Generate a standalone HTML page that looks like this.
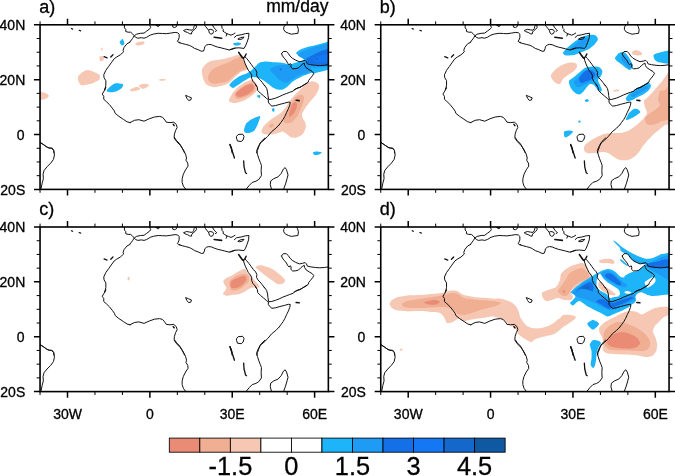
<!DOCTYPE html>
<html><head><meta charset="utf-8"><title>Precipitation anomaly maps</title>
<style>
html,body{margin:0;padding:0;background:#fff;}
body{width:675px;height:476px;overflow:hidden;font-family:"Liberation Sans",sans-serif;}
svg{display:block}
text{font-family:"Liberation Sans",sans-serif;fill:#000;stroke:#000;stroke-width:0.3px}
.c{fill:none;stroke:#111;stroke-linejoin:round;stroke-linecap:round}
.fr{fill:none;stroke:#000;stroke-width:1.6}
.tk{stroke:#000;stroke-width:1.5;fill:none}.tm{stroke:#000;stroke-width:1;fill:none}
.ax{font-size:14px}
.pl{font-size:18px}.un{font-size:17.5px}
.cb{font-size:25.4px}
</style></head><body>
<svg width="675" height="476" viewBox="0 0 675 476">
<rect width="675" height="476" fill="#fff"/>
<defs>
<clipPath id="cp"><rect x="0" y="0" width="288.3" height="164.6"/></clipPath>
<g id="coast">
<path class="c" d="M31.4,3.7 L32.6,4.3" stroke-width="1.2"/>
<path class="c" d="M39.1,5.5 L40.6,6.1" stroke-width="1.2"/>
<path class="c" d="M64.0,31.9 L67.0,33.1" stroke-width="1.3"/>
<path class="c" d="M70.7,32.2 L72.9,30.0" stroke-width="1.3"/>
<path class="c" d="M84.4,0.3 L84.4,3.1 L85.7,4.5 L85.7,6.7 L88.0,7.4 L90.6,7.4 L92.4,8.9 L94.2,11.0 L96.4,9.4 L100.4,8.5 L104.0,8.3 L106.6,6.3 L109.7,4.0 L110.6,2.7 L109.7,0.3"/>
<path class="c" d="M90.0,17.4 L87.0,18.9 L84.0,22.6 L83.0,25.5 L83.6,27.0 L80.3,30.0 L76.6,32.2 L74.1,34.0 L71.1,38.1 L68.5,41.8 L65.8,45.5 L63.7,50.0 L64.0,52.9 L65.8,55.9 L65.8,60.3 L64.8,65.1"/>
<path class="c" d="M89.9,17.0 L92.4,13.8 L94.2,11.0 L95.5,12.5 L97.7,13.4 L101.3,12.9 L104.0,13.4 L106.6,12.5 L110.2,10.3 L113.7,9.2 L118.2,8.5 L122.6,8.7 L126.2,8.9 L130.6,8.3 L135.1,7.6 L137.7,8.0 L139.1,9.4 L139.1,12.9 L138.2,15.2 L137.3,16.5 L138.6,17.4 L139.9,17.6"/>
<path class="c" d="M116.0,0.5 L118.2,1.8 L119.5,0.7 Z"/>
<path class="c" d="M132.4,0.3 L132.8,2.3 L134.6,2.7 L136.4,1.8 L136.8,0.3"/>
<path class="c" d="M138.9,17.8 L142.1,18.7 L145.6,19.6 L149.2,20.5 L151.8,21.8 L154.5,23.6 L158.1,24.9 L161.2,26.4 L163.4,26.3 L164.3,24.0 L164.7,21.8 L166.5,20.2 L168.7,19.6 L171.4,19.9 L174.1,21.1 L177.6,22.3 L181.2,23.1 L184.7,24.0 L189.2,25.2 L191.8,24.5 L194.9,23.4"/>
<path class="c" d="M143.8,5.6 L146.5,4.5 L149.6,5.1 L152.3,5.4 L153.6,3.6 L154.1,1.4 L154.9,0.3 L156.3,0.5 L156.3,2.7 L154.9,4.5 L153.2,5.8 L151.8,7.2 L151.4,9.2 L149.6,8.9 L147.4,7.6 L145.2,6.9 Z"/>
<path class="c" d="M164.3,0.0 L165.6,1.8 L167.4,4.0 L168.7,5.8 L169.4,8.3 L170.9,9.4 L172.7,8.7 L173.6,6.7 L172.7,5.1 L170.1,4.5 L168.7,5.1"/>
<path class="c" d="M172.3,0.3 L174.1,3.1 L175.8,4.9 L176.7,5.8 L175.4,6.5"/>
<path class="c" d="M174.1,12.5 L181.6,13.4" stroke-width="1.6"/>
<path class="c" d="M181.6,0.3 L182.1,3.6 L183.4,4.9 L182.9,6.3 L184.7,7.6 L186.9,8.9 L186.1,11.2"/>
<path class="c" d="M186.9,8.9 L188.3,9.4 L190.9,10.4 L193.2,9.4 L194.9,8.3"/>
<path class="c" d="M194.4,12.6 L196.6,10.7 L201.1,10.0 L205.5,8.8 L208.9,8.5 L208.5,12.9 L207.0,17.4 L205.5,21.1 L204.0,23.6 L198.8,23.0 L194.4,23.3 L189.9,24.8"/>
<path class="c" d="M198.1,14.1 L200.3,12.9 L204.0,12.2 L202.5,14.1 L199.6,14.7 Z"/>
<path class="c" d="M198.7,27.6 L200.5,30.3 L202.3,32.8 L203.4,33.4" stroke-width="1.7"/>
<path class="c" d="M206.1,29.2 L204.9,31.6 L203.6,33.1" stroke-width="1.4"/>
<path class="c" d="M203.4,33.4 L204.1,36.0 L205.2,39.1 L206.7,42.3 L208.2,45.4 L210.3,48.0 L211.6,50.3 L211.6,53.4 L212.9,56.5 L215.2,59.1 L216.5,61.4"/>
<path class="c" d="M204.9,32.0 L206.7,33.8 L208.9,36.5 L211.2,39.6 L213.4,42.7 L215.6,44.9 L216.8,47.6 L216.5,50.3 L217.8,52.9 L220.1,55.1 L222.3,57.8 L224.5,60.9"/>
<path class="c" d="M215.5,59.9 L217.3,62.6 L217.7,65.7 L220.4,68.4 L223.5,71.0 L226.6,73.7 L228.4,75.0 L228.2,77.3 L229.7,79.5 L231.9,81.3 L235.5,80.8 L239.9,79.5 L244.4,78.4 L248.4,77.3 L250.2,77.5 L249.7,80.4 L248.4,83.9 L246.6,87.5 L244.8,91.5 L243.1,94.6 L240.8,97.7 L239.1,100.1"/>
<path class="c" d="M224.4,60.4 L226.6,63.5 L227.5,67.0 L227.9,70.6 L228.6,74.6 L231.1,74.6 L235.5,73.3 L239.1,71.9 L242.6,70.2 L246.2,68.8 L249.7,67.5 L253.3,66.2 L255.1,64.4 L257.7,63.0 L259.9,62.6"/>
<path class="c" d="M256.1,75.5 L259.1,75.8" stroke-width="1.6"/>
<path class="c" d="M245.1,0.3 L243.7,2.3 L243.7,4.9 L245.5,7.2 L248.6,8.5 L251.3,9.4 L254.8,8.9 L257.9,8.5 L258.4,4.9 L257.5,1.8 L256.6,0.3"/>
<path class="c" d="M241.5,28.9 L243.3,26.7 L246.4,26.7 L248.2,28.5 L249.9,31.1 L252.2,33.4 L255.7,35.4 L259.3,36.9 L262.4,36.3 L265.1,35.6 L266.4,36.9 L267.3,39.1 L270.8,39.9 L275.3,40.5 L279.7,40.8 L284.2,40.5 L287.7,40.0"/>
<path class="c" d="M241.5,28.9 L242.4,31.1 L244.2,33.4 L246.4,36.0 L247.7,38.7 L249.1,40.0 L250.2,38.7 L251.1,40.0 L250.8,42.3 L252.6,44.0 L255.7,43.8 L258.4,43.1 L260.6,40.9 L262.8,39.1 L264.2,38.3 L264.6,40.5 L265.9,42.7 L269.1,44.9 L272.2,46.7 L273.7,48.5 L272.6,50.7 L270.4,53.4 L268.6,55.6 L268.2,57.4 L265.9,59.1 L262.8,60.9 L259.3,62.7 L255.7,64.2 L253.9,65.1"/>
<path class="c" d="M64.8,64.4 L65.8,62.6 L64.0,66.3 L62.2,69.3 L63.7,71.5 L63.7,74.5 L66.2,76.7 L69.2,79.6 L72.2,83.3 L74.4,86.3 L75.1,88.5 L78.8,91.5 L83.3,94.5 L87.0,97.0 L90.0,97.8"/>
<path class="c" d="M0.3,117.7 L3.3,119.6 L6.2,121.8 L9.2,123.3 L12.2,123.3 L13.7,125.6 L13.9,128.1"/>
<path class="c" d="M90.0,97.8 L94.4,95.5 L98.8,94.9 L104.0,96.4 L109.2,94.0 L114.4,92.2 L119.6,91.6 L122.5,92.5 L124.8,95.2 L126.2,97.4 L129.9,97.8 L133.7,97.4 L136.2,99.6 L137.1,102.6 L135.6,105.6 L134.4,109.3 L134.1,112.2 L136.6,115.9 L139.6,118.9 L141.8,122.6 L143.6,126.3 L144.5,128.1"/>
<path class="c" d="M145.9,70.7 L148.5,71.8 L151.4,73.0 L150.7,75.2 L148.5,75.6 L147.0,73.7 Z"/>
<path class="c" d="M133.2,99.6 L134.1,100.8" stroke-width="1.5"/>
<path class="c" d="M239.0,100.1 L235.9,103.3 L231.4,107.0 L227.7,111.5 L224.0,115.2 L220.3,118.2 L218.8,121.8 L217.4,125.6 L216.6,128.1"/>
<path class="c" d="M259.9,62.6 L261.1,61.9 L264.0,59.9 L267.0,58.1"/>
<path class="c" d="M196.6,111.5 L198.1,109.7 L202.5,109.3 L204.0,111.5 L203.0,115.2 L201.1,116.7 L197.4,116.2 L196.6,113.7 Z"/>
<path class="c" d="M189.9,119.6 L191.4,123.3 L192.2,127.8" stroke-width="1.35"/>
<path class="c" d="M0.3,117.9 L4.0,120.3 L7.7,122.8 L11.4,123.5 L13.7,125.7 L14.4,130.2 L13.4,134.6 L10.7,138.3 L7.0,142.0 L4.0,145.7 L3.0,149.4 L3.3,153.9 L2.1,158.3 L1.1,163.5"/>
<path class="c" d="M134.1,113.2 L136.6,116.8 L140.3,120.6 L143.3,125.0 L145.5,129.4 L146.5,133.2 L145.9,135.4 L147.7,138.3 L148.0,141.3 L145.5,145.0 L143.3,149.4 L142.1,153.9 L142.1,157.6 L143.3,161.3 L145.5,164.3"/>
<path class="c" d="M224.8,113.2 L221.1,116.8 L218.8,120.6 L216.6,125.7 L217.4,129.4 L218.8,133.9 L220.3,137.6 L221.4,140.6 L221.1,145.7 L221.4,150.9 L218.8,154.6 L215.9,156.4 L212.2,157.6 L209.2,160.6 L206.2,164.3"/>
<path class="c" d="M231.4,164.3 L230.2,159.8 L230.7,156.1 L233.7,153.9 L238.1,152.0 L241.1,148.7 L243.3,144.3 L245.1,142.8 L246.5,145.0 L248.0,150.2 L247.0,153.9 L245.5,159.1 L243.6,164.3"/>
<path class="c" d="M189.9,119.8 L192.2,126.5 L194.4,133.2" stroke-width="1.35"/>
<path class="c" d="M203.6,136.1 L204.0,142.0 L205.5,148.0 L206.5,148.7" stroke-width="1.3"/>
</g></defs>
<g transform="translate(40.05,24.8)">
<g clip-path="url(#cp)">
<path d="M37.9,51.9 C38.3,50.9 40.2,48.9 41.3,48.1 C42.4,47.3 45.6,45.5 47.0,45.3 C48.4,45.1 51.2,46.1 52.7,46.6 C54.1,47.2 58.5,49.0 59.3,50.0 C60.1,51.0 59.8,53.8 59.3,54.8 C58.7,55.7 55.8,57.0 54.5,57.6 C53.3,58.1 50.5,59.1 48.9,59.5 C47.3,59.8 42.6,60.8 41.3,60.4 C40.1,60.1 38.9,57.7 38.5,56.6 C38.1,55.6 37.6,52.9 37.9,51.9 Z" fill="#F6C7B3"/>
<path d="M59.3,32.1 C59.5,31.4 61.5,31.0 62.1,31.1 C62.7,31.2 63.9,32.4 64.0,33.0 C64.1,33.6 63.5,35.4 63.1,35.8 C62.6,36.2 60.7,36.9 60.2,36.4 C59.8,36.0 59.1,32.7 59.3,32.1 Z" fill="#F6C7B3"/>
<path d="M61.2,23.2 C61.3,22.9 62.3,22.9 62.5,23.2 C62.6,23.5 62.6,25.2 62.5,25.4 C62.3,25.7 61.3,25.7 61.2,25.4 C61.0,25.2 61.0,23.5 61.2,23.2 Z" fill="#F6C7B3"/>
<path d="M-4.0,66.7 C-3.0,65.8 2.9,67.5 4.5,68.0 C6.0,68.5 8.6,70.1 8.8,70.8 C9.0,71.5 7.2,73.2 6.4,73.7 C5.5,74.1 2.9,74.8 1.6,75.0 C0.4,75.2 -3.4,76.3 -4.0,75.4 C-4.7,74.4 -5.1,67.5 -4.0,66.7 Z" fill="#F6C7B3"/>
<path d="M79.5,17.5 C79.6,16.7 81.9,13.9 82.5,14.1 C83.1,14.3 84.5,18.0 84.4,18.8 C84.4,19.6 82.6,20.9 82.0,20.7 C81.4,20.6 79.4,18.3 79.5,17.5 Z" fill="#1EB4FA"/>
<path d="M66.8,65.1 C67.2,64.5 69.6,62.2 70.6,61.4 C71.6,60.6 73.9,58.8 75.4,58.5 C76.8,58.3 82.1,58.9 82.9,59.5 C83.7,60.0 82.6,62.1 82.0,62.9 C81.3,63.7 78.5,65.5 77.2,66.1 C76.0,66.6 72.7,67.3 71.6,67.4 C70.4,67.5 68.0,67.3 67.4,67.0 C66.8,66.8 66.5,65.8 66.8,65.1 Z" fill="#1EB4FA"/>
<path d="M90.0,64.8 C90.2,64.4 92.8,63.4 93.6,63.0 C94.5,62.7 96.6,62.0 97.4,62.2 C98.2,62.3 100.5,63.6 100.3,64.1 C100.1,64.6 96.9,65.7 95.9,66.0 C94.8,66.3 92.1,66.8 91.4,66.6 C90.7,66.5 89.7,65.3 90.0,64.8 Z" fill="#F6C7B3"/>
<path d="M98.8,60.7 C99.3,60.3 102.0,59.0 103.3,58.9 C104.5,58.8 108.9,59.6 109.2,60.1 C109.6,60.5 107.1,62.1 106.3,62.6 C105.4,63.1 103.3,64.2 102.5,64.1 C101.7,64.0 100.0,62.3 99.6,61.9 C99.1,61.5 98.4,61.0 98.8,60.7 Z" fill="#F6C7B3"/>
<path d="M118.8,54.8 C119.2,54.6 121.7,54.1 122.5,54.2 C123.4,54.2 126.2,54.7 126.3,54.9 C126.3,55.1 124.1,55.9 123.3,55.9 C122.5,56.0 120.1,55.8 119.6,55.6 C119.0,55.5 118.5,54.9 118.8,54.8 Z" fill="#F6C7B3"/>
<path d="M95.2,18.7 C95.4,18.3 97.5,17.5 98.5,17.2 C99.5,17.0 102.9,16.6 103.6,16.8 C104.4,17.0 104.7,18.3 104.4,18.7 C104.1,19.1 102.3,20.0 101.4,20.2 C100.5,20.4 97.7,20.8 97.0,20.6 C96.2,20.5 95.0,19.1 95.2,18.7 Z" fill="#F6C7B3"/>
<path d="M161.9,45.2 C162.2,43.6 163.9,41.3 164.9,40.2 C166.0,39.1 169.0,36.8 170.9,36.2 C172.9,35.6 178.5,35.3 180.9,34.8 C183.3,34.3 188.9,32.8 190.9,32.2 C193.0,31.6 196.6,30.2 197.9,30.2 C199.3,30.2 201.1,31.2 201.9,32.2 C202.8,33.2 204.3,36.8 204.9,38.2 C205.6,39.6 207.8,43.1 207.4,44.2 C206.9,45.3 202.4,46.2 200.9,47.2 C199.5,48.2 196.4,50.9 194.9,52.2 C193.5,53.5 190.6,57.1 188.9,58.2 C187.3,59.3 182.9,60.7 180.9,61.2 C179.0,61.7 174.8,62.4 172.9,62.2 C171.1,62.0 167.1,60.3 165.9,59.2 C164.8,58.1 163.4,54.9 162.9,53.2 C162.5,51.5 161.7,46.8 161.9,45.2 Z" fill="#F6C7B3"/>
<path d="M167.9,52.2 C168.3,50.9 170.6,46.5 171.9,45.2 C173.3,43.9 177.1,42.0 178.9,41.2 C180.8,40.4 185.0,39.0 186.9,38.2 C188.9,37.4 193.3,34.9 194.9,34.2 C196.6,33.5 199.5,31.8 200.6,32.2 C201.6,32.6 203.2,35.8 203.9,37.2 C204.7,38.6 207.0,42.5 206.6,43.6 C206.1,44.7 201.5,45.3 199.9,46.2 C198.4,47.1 195.4,49.6 193.9,50.8 C192.5,52.0 189.6,55.3 187.9,56.2 C186.3,57.1 181.8,57.9 179.9,58.2 C178.1,58.5 174.3,59.0 172.9,58.8 C171.6,58.6 169.5,57.0 168.9,56.2 C168.3,55.4 167.6,53.5 167.9,52.2 Z" fill="#F0AE93"/>
<path d="M188.9,75.2 C189.2,74.2 191.0,70.6 191.9,69.2 C192.9,67.8 195.5,64.5 196.9,63.2 C198.4,61.9 202.1,59.2 203.9,58.2 C205.8,57.2 210.5,55.2 211.9,55.2 C213.4,55.2 215.2,57.2 215.9,58.2 C216.7,59.2 218.1,62.0 217.9,63.2 C217.8,64.4 215.9,67.1 214.9,68.2 C214.0,69.3 211.4,71.2 209.9,72.2 C208.5,73.2 204.8,75.5 202.9,76.2 C201.1,76.9 196.5,78.1 194.9,78.2 C193.4,78.3 190.7,77.6 189.9,77.2 C189.2,76.8 188.7,76.2 188.9,75.2 Z" fill="#F6C7B3"/>
<path d="M194.9,69.2 C195.5,68.2 198.6,65.3 199.9,64.2 C201.3,63.1 204.5,61.0 205.9,60.2 C207.4,59.4 210.9,57.5 211.9,57.6 C213.0,57.7 214.6,60.3 214.9,61.2 C215.3,62.1 215.4,64.2 214.9,65.2 C214.5,66.2 212.1,68.4 210.9,69.2 C209.8,70.0 206.5,71.6 204.9,72.2 C203.4,72.8 199.1,74.2 197.9,74.2 C196.8,74.2 195.3,72.8 194.9,72.2 C194.6,71.6 194.3,70.2 194.9,69.2 Z" fill="#F0AE93"/>
<path d="M195.9,68.2 C196.5,67.4 199.6,64.6 200.9,63.6 C202.3,62.6 205.6,60.7 206.9,60.2 C208.3,59.7 211.1,58.8 211.9,59.2 C212.8,59.6 214.1,62.2 213.9,63.2 C213.8,64.2 212.0,66.3 210.9,67.2 C209.9,68.1 206.4,70.2 204.9,70.8 C203.5,71.4 200.0,72.3 198.9,72.2 C197.9,72.1 196.3,70.7 195.9,70.2 C195.6,69.7 195.3,69.0 195.9,68.2 Z" fill="#E98B75"/>
<path d="M221.5,106.6 C221.6,105.9 222.4,103.0 223.1,102.0 C223.7,101.0 225.9,99.0 226.9,98.1 C228.0,97.2 230.3,95.1 231.6,94.2 C232.9,93.3 236.5,91.2 237.8,90.3 C239.1,89.4 241.5,87.4 242.5,86.4 C243.5,85.4 245.5,83.0 246.4,81.8 C247.2,80.5 248.7,77.5 249.5,76.3 C250.3,75.1 252.4,72.8 253.4,71.6 C254.4,70.5 256.9,68.1 258.1,67.0 C259.2,65.9 261.6,63.3 262.7,62.3 C263.8,61.3 266.3,59.1 267.4,58.4 C268.5,57.7 270.9,56.5 272.1,56.4 C273.2,56.3 275.9,57.1 276.7,57.6 C277.6,58.2 278.9,59.8 279.1,60.8 C279.2,61.7 278.7,64.2 278.3,65.4 C277.8,66.6 276.0,69.7 275.2,70.9 C274.3,72.1 272.2,74.4 271.3,75.5 C270.3,76.6 268.2,79.1 267.4,80.2 C266.6,81.3 264.9,83.8 264.3,84.9 C263.6,86.0 262.1,88.5 261.9,89.5 C261.8,90.6 262.4,92.5 262.7,93.4 C263.1,94.4 264.7,96.3 265.1,97.3 C265.4,98.3 265.9,100.9 265.8,102.0 C265.7,103.1 264.8,105.6 264.3,106.6 C263.7,107.7 262.2,109.8 261.2,110.5 C260.1,111.3 257.0,112.7 255.7,112.9 C254.4,113.1 251.4,112.6 250.3,112.1 C249.2,111.6 247.3,109.6 246.4,109.0 C245.5,108.3 243.5,106.7 242.5,106.6 C241.5,106.5 239.1,107.8 237.8,108.2 C236.5,108.6 233.1,109.6 231.6,109.8 C230.1,109.9 226.5,109.9 225.4,109.8 C224.3,109.6 222.7,108.6 222.3,108.2 C221.8,107.8 221.4,107.4 221.5,106.6 Z" fill="#F6C7B3"/>
<path d="M243.6,95.7 C243.9,94.7 245.7,91.0 246.3,89.5 C246.9,88.0 248.3,84.7 249.0,83.3 C249.6,81.9 251.0,79.1 251.6,78.0 C252.3,76.8 253.6,74.4 254.3,73.5 C255.1,72.7 256.9,71.3 257.9,70.8 C258.8,70.4 261.6,69.7 262.3,70.0 C263.1,70.2 264.0,71.8 264.1,72.6 C264.2,73.5 263.5,75.9 263.2,77.1 C262.9,78.2 261.8,81.2 261.4,82.4 C261.0,83.6 260.1,85.9 259.6,86.8 C259.2,87.8 258.4,89.5 257.9,90.4 C257.3,91.3 255.9,93.1 255.2,94.0 C254.4,94.8 252.6,97.0 251.6,97.5 C250.7,98.1 248.2,98.4 247.3,98.5 C246.4,98.5 244.6,98.2 244.2,97.9 C243.7,97.5 243.4,96.7 243.6,95.7 Z" fill="#F0AE93"/>
<path d="M229.1,100.5 C229.3,100.1 230.7,99.1 231.3,99.0 C231.8,98.9 233.5,99.3 233.8,99.6 C234.0,100.0 233.6,101.5 233.2,101.9 C232.9,102.3 231.3,102.9 230.8,102.9 C230.4,103.0 229.5,102.6 229.2,102.3 C229.0,102.0 228.8,100.9 229.1,100.5 Z" fill="#F0AE93"/>
<path d="M249.0,89.5 C249.0,88.7 250.0,86.1 250.3,85.1 C250.6,84.0 251.3,81.5 251.6,80.6 C252.0,79.8 252.9,78.3 253.4,78.0 C253.9,77.6 255.2,77.3 255.6,77.5 C256.1,77.7 256.9,78.9 257.0,79.7 C257.0,80.5 256.4,83.2 256.1,84.2 C255.8,85.1 254.8,86.9 254.3,87.7 C253.8,88.5 252.2,90.3 251.6,90.8 C251.1,91.4 250.2,92.3 249.9,92.2 C249.5,92.0 248.9,90.4 249.0,89.5 Z" fill="#E98B75"/>
<path d="M189.4,60.2 C189.5,59.2 192.7,56.3 193.9,55.2 C195.2,54.1 198.3,52.0 199.9,51.2 C201.6,50.4 205.8,49.0 207.4,48.2 C208.9,47.4 211.6,45.4 212.9,44.2 C214.3,43.0 217.5,39.1 218.9,38.2 C220.4,37.3 223.8,37.0 224.9,36.8 C226.1,36.6 227.1,36.8 228.3,36.9 C229.5,37.0 233.4,37.3 235.0,37.5 C236.6,37.6 240.2,37.8 241.7,38.0 C243.1,38.2 246.0,39.0 247.2,39.1 C248.4,39.3 250.5,39.3 251.7,39.1 C252.9,38.9 256.0,37.8 257.2,37.5 C258.4,37.1 260.9,36.7 261.7,36.3 C262.5,36.0 264.0,35.2 263.9,34.7 C263.8,34.1 261.4,32.5 260.6,31.9 C259.8,31.3 257.8,30.1 257.2,29.7 C256.7,29.2 255.9,28.5 256.1,28.0 C256.4,27.5 258.4,25.8 259.5,25.2 C260.5,24.6 263.6,23.5 265.0,23.0 C266.5,22.5 270.1,21.7 271.7,21.3 C273.3,20.9 276.9,20.0 278.4,19.7 C279.8,19.3 281.9,18.7 283.9,18.3 C285.9,17.9 293.7,13.2 295.1,16.3 C296.4,19.4 295.9,40.9 295.1,44.4 C294.2,47.8 289.3,45.0 287.8,45.2 C286.4,45.5 284.0,46.1 282.8,46.4 C281.7,46.6 279.4,47.2 278.4,47.5 C277.3,47.7 274.7,48.5 273.9,48.6 C273.1,48.6 272.4,48.0 271.7,48.0 C271.0,48.1 269.3,48.8 268.4,49.1 C267.4,49.5 265.0,50.3 263.9,50.8 C262.8,51.3 260.5,52.5 259.5,53.0 C258.4,53.6 256.1,54.6 255.0,55.3 C253.9,55.9 251.5,57.8 250.6,58.6 C249.6,59.4 248.2,61.2 247.2,61.9 C246.3,62.7 244.0,64.4 242.8,64.7 C241.6,65.1 238.3,64.9 237.2,64.7 C236.1,64.5 234.5,63.8 233.3,63.0 C232.1,62.3 228.4,59.3 226.9,58.2 C225.5,57.1 222.5,54.9 220.9,54.2 C219.4,53.5 215.4,52.3 213.9,52.2 C212.5,52.1 210.1,52.7 208.9,53.2 C207.8,53.7 205.3,55.4 203.9,56.2 C202.6,57.0 199.3,59.4 197.9,60.2 C196.6,61.0 194.0,63.2 192.9,63.2 C191.9,63.2 189.2,61.2 189.4,60.2 Z" fill="#1EB4FA"/>
<path d="M230.0,44.7 C230.1,44.1 231.9,42.9 232.8,42.5 C233.6,42.0 236.0,41.3 237.2,41.0 C238.4,40.8 241.4,40.3 242.8,40.2 C244.1,40.1 247.3,40.0 248.3,40.2 C249.4,40.5 250.9,42.1 251.7,42.5 C252.5,42.8 254.1,43.2 255.0,43.0 C255.9,42.9 258.5,42.0 259.5,41.4 C260.5,40.7 262.6,38.5 263.4,38.0 C264.1,37.5 265.5,37.4 265.6,36.9 C265.6,36.4 264.6,34.7 263.9,34.1 C263.2,33.5 260.2,32.4 259.5,31.9 C258.7,31.4 257.5,30.3 257.8,29.7 C258.1,29.1 260.6,27.5 261.7,26.9 C262.8,26.3 265.8,25.2 267.2,24.7 C268.7,24.1 272.3,22.9 273.9,22.4 C275.5,22.0 278.1,21.3 280.6,20.8 C283.1,20.3 293.3,15.8 295.1,18.3 C296.8,20.9 295.9,39.1 295.1,41.9 C294.2,44.7 289.4,41.8 287.8,41.9 C286.2,42.0 283.3,42.3 281.7,42.5 C280.2,42.6 276.4,43.1 275.0,43.0 C273.7,43.0 271.0,41.6 270.6,41.9 C270.2,42.2 272.0,45.1 271.7,45.8 C271.4,46.5 269.2,47.1 268.4,47.5 C267.6,47.8 266.0,48.3 265.0,48.6 C264.1,48.8 261.6,49.3 260.6,49.7 C259.5,50.1 257.1,51.4 256.1,51.9 C255.2,52.5 253.6,53.6 252.8,54.2 C252.0,54.7 250.3,55.9 249.4,56.4 C248.6,56.8 247.0,58.0 246.1,58.0 C245.2,58.1 243.1,57.4 242.2,56.9 C241.3,56.5 239.2,54.9 238.3,54.2 C237.5,53.4 235.8,51.6 235.0,50.8 C234.2,50.0 232.2,48.2 231.6,47.5 C231.0,46.7 229.8,45.3 230.0,44.7 Z" fill="#1E9BF5"/>
<path d="M239.6,43.9 C239.8,43.7 241.2,43.8 241.4,43.9 C241.7,44.1 241.8,45.1 241.7,45.2 C241.5,45.4 240.1,45.6 239.9,45.5 C239.6,45.3 239.5,44.1 239.6,43.9 Z" fill="#1470E6"/>
<path d="M266.1,34.1 C266.4,33.5 268.5,32.4 269.5,31.9 C270.4,31.4 272.9,30.2 273.9,29.7 C275.0,29.1 277.3,27.9 278.4,27.4 C279.4,27.0 280.8,26.3 282.8,25.8 C284.8,25.3 293.6,21.5 295.1,23.2 C296.5,24.9 296.8,38.2 295.1,40.2 C293.3,42.3 283.0,40.3 280.6,40.2 C278.2,40.2 276.2,40.0 275.0,39.9 C273.8,39.8 271.5,39.4 270.6,39.1 C269.7,38.8 267.8,38.1 267.2,37.5 C266.7,36.9 265.9,34.8 266.1,34.1 Z" fill="#1470E6"/>
<path d="M272.8,33.6 C273.2,33.1 276.2,32.2 277.3,31.9 C278.3,31.6 279.6,31.0 281.7,30.8 C283.9,30.5 293.5,28.9 295.1,29.7 C296.7,30.5 296.7,36.5 295.1,37.5 C293.5,38.4 283.9,37.5 281.7,37.5 C279.6,37.4 278.2,37.1 277.3,36.9 C276.3,36.7 274.5,36.2 273.9,35.8 C273.4,35.4 272.4,34.0 272.8,33.6 Z" fill="#1478F5"/>
<path d="M275.0,33.7 C275.3,33.5 277.5,33.3 277.8,33.5 C278.2,33.6 278.2,34.4 277.9,34.6 C277.6,34.7 275.6,34.9 275.3,34.8 C274.9,34.7 274.7,33.8 275.0,33.7 Z" fill="#1468CC"/>
<path d="M216.9,70.8 C217.2,70.5 219.6,69.9 219.9,70.2 C220.3,70.5 220.2,72.9 219.9,73.2 C219.7,73.5 218.3,73.1 217.9,72.8 C217.6,72.5 216.7,71.1 216.9,70.8 Z" fill="#1EB4FA"/>
<path d="M231.9,84.2 C232.1,83.8 233.6,83.0 233.9,83.2 C234.3,83.4 234.7,85.8 234.6,86.2 C234.4,86.6 232.9,87.0 232.6,86.8 C232.2,86.6 231.8,84.6 231.9,84.2 Z" fill="#1EB4FA"/>
<path d="M192.9,18.8 C193.2,18.4 196.0,17.7 196.9,17.6 C197.9,17.5 200.6,17.9 200.9,18.2 C201.3,18.5 200.7,19.9 199.9,20.2 C199.2,20.5 195.8,21.0 194.9,20.8 C194.1,20.6 192.7,19.2 192.9,18.8 Z" fill="#1EB4FA"/>
<path d="M203.9,105.2 C204.1,104.2 205.1,100.4 205.9,99.2 C206.8,98.0 209.3,95.8 210.9,94.8 C212.6,93.8 219.0,91.0 219.9,91.2 C220.9,91.4 219.3,95.0 218.9,96.2 C218.6,97.4 217.5,100.0 216.9,101.2 C216.3,102.4 214.9,105.4 213.9,106.2 C213.0,107.0 210.0,108.0 208.9,108.2 C207.9,108.4 205.5,108.0 204.9,107.6 C204.3,107.2 203.8,106.2 203.9,105.2 Z" fill="#1EB4FA"/>
<path d="M272.9,127.6 C273.2,127.2 275.9,126.8 276.9,126.8 C278.0,126.8 281.7,127.5 281.9,127.8 C282.2,128.1 279.8,129.3 278.9,129.6 C278.1,129.9 275.3,130.4 274.6,130.2 C273.8,130.0 272.7,128.0 272.9,127.6 Z" fill="#1EB4FA"/>
<use href="#coast" stroke-width="1"/>
</g>
<rect class="fr" x="0" y="0" width="288.3" height="164.6"/>
<path class="tk" d="M27.46,0v-6.1M27.46,164.6v6.1M109.83,0v-6.1M109.83,164.6v6.1M192.20,0v-6.1M192.20,164.6v6.1M274.57,0v-6.1M274.57,164.6v6.1M0,164.60h-6.1M288.3,164.60h6.1M0,109.73h-6.1M288.3,109.73h6.1M0,54.87h-6.1M288.3,54.87h6.1M0,0.00h-6.1M288.3,0.00h6.1"/><path class="tm" d="M0.00,0v-3.4M0.00,164.6v3.4M54.91,0v-3.4M54.91,164.6v3.4M82.37,0v-3.4M82.37,164.6v3.4M137.29,0v-3.4M137.29,164.6v3.4M164.74,0v-3.4M164.74,164.6v3.4M219.66,0v-3.4M219.66,164.6v3.4M247.11,0v-3.4M247.11,164.6v3.4M0,150.88h-3.4M288.3,150.88h3.4M0,137.17h-3.4M288.3,137.17h3.4M0,123.45h-3.4M288.3,123.45h3.4M0,96.02h-3.4M288.3,96.02h3.4M0,82.30h-3.4M288.3,82.30h3.4M0,68.58h-3.4M288.3,68.58h3.4M0,41.15h-3.4M288.3,41.15h3.4M0,27.43h-3.4M288.3,27.43h3.4M0,13.72h-3.4M288.3,13.72h3.4"/>
<text class="ax" x="-14.8" y="5.2" text-anchor="end">40N</text>
<text class="ax" x="-14.8" y="60.1" text-anchor="end">20N</text>
<text class="ax" x="-19.3" y="114.9" text-anchor="middle">0</text>
<text class="ax" x="-14.8" y="169.8" text-anchor="end">20S</text>
<text class="pl" x="-0.9" y="-12.0">a)</text>
<text class="un" x="288.40000000000003" y="-12.4" text-anchor="end">mm/day</text>
</g>
<g transform="translate(380.75,24.8)">
<g clip-path="url(#cp)">
<path d="M182.2,28.2 C182.4,27.3 185.1,24.4 186.2,23.2 C187.4,22.0 190.7,19.4 192.2,18.2 C193.8,17.0 197.4,14.2 199.2,13.2 C201.1,12.2 205.4,10.6 207.2,10.2 C209.1,9.8 213.1,9.7 214.2,10.2 C215.4,10.7 217.2,13.1 217.2,14.2 C217.2,15.3 215.3,18.0 214.2,19.2 C213.2,20.4 209.8,23.2 208.2,24.2 C206.7,25.2 203.1,26.5 201.2,27.2 C199.4,27.9 195.2,29.8 193.2,30.2 C191.3,30.6 186.6,30.8 185.2,30.6 C183.9,30.4 182.1,29.1 182.2,28.2 Z" fill="#1EB4FA"/>
<path d="M189.4,24.0 C189.7,23.3 193.2,20.6 194.4,19.6 C195.6,18.6 198.1,16.6 199.5,15.8 C200.8,15.1 204.8,13.4 205.8,13.3 C206.7,13.2 207.3,14.5 207.3,15.2 C207.3,15.9 206.3,18.1 205.8,19.0 C205.2,19.8 203.7,21.5 202.6,22.1 C201.6,22.7 198.2,23.6 197.0,24.0 C195.7,24.4 192.8,25.3 191.9,25.3 C191.0,25.3 189.1,24.7 189.4,24.0 Z" fill="#1E9BF5"/>
<path d="M170.2,50.2 C170.6,49.1 172.9,46.4 174.2,45.2 C175.6,44.0 179.4,41.1 181.2,40.2 C183.1,39.3 187.6,38.0 189.2,37.8 C190.9,37.6 194.4,38.1 195.2,38.6 C196.1,39.1 196.5,41.3 196.2,42.2 C196.0,43.1 194.3,45.2 193.2,46.2 C192.2,47.2 188.6,49.2 187.2,50.2 C185.9,51.2 183.2,53.1 182.2,54.2 C181.3,55.3 180.1,58.7 179.2,59.2 C178.4,59.7 176.2,58.8 175.2,58.2 C174.3,57.6 171.8,55.2 171.2,54.2 C170.7,53.2 169.9,51.3 170.2,50.2 Z" fill="#F6C7B3"/>
<path d="M188.2,56.2 C188.7,55.0 191.9,53.3 193.2,52.2 C194.6,51.1 197.9,48.3 199.2,47.2 C200.6,46.1 202.8,43.8 204.2,43.2 C205.7,42.6 209.6,41.9 211.2,41.8 C212.9,41.7 217.0,41.7 218.2,42.2 C219.5,42.7 221.4,45.1 221.6,46.2 C221.9,47.3 220.8,50.1 220.2,51.2 C219.7,52.3 217.4,54.1 217.2,55.2 C217.1,56.3 218.8,59.0 219.2,60.2 C219.7,61.4 221.2,64.4 221.2,65.2 C221.2,66.0 219.8,67.3 219.2,67.2 C218.7,67.1 217.0,65.0 216.2,64.2 C215.5,63.4 214.1,60.8 213.2,60.2 C212.4,59.6 210.1,59.0 209.2,59.2 C208.4,59.4 207.1,61.2 206.2,62.2 C205.4,63.2 203.2,66.3 202.2,67.2 C201.3,68.1 199.3,69.8 198.2,69.8 C197.2,69.8 194.3,68.1 193.2,67.2 C192.2,66.3 190.2,63.5 189.6,62.2 C189.0,60.9 187.8,57.4 188.2,56.2 Z" fill="#1EB4FA"/>
<path d="M193.2,57.2 C193.4,56.0 196.2,53.8 197.2,52.6 C198.3,51.4 200.9,48.2 202.2,47.2 C203.6,46.2 206.7,44.4 208.2,44.2 C209.8,44.0 214.1,44.6 215.2,45.2 C216.4,45.8 218.2,48.2 218.2,49.2 C218.2,50.2 216.2,52.8 215.2,53.8 C214.3,54.8 211.4,56.6 210.2,57.2 C209.1,57.8 206.3,58.7 205.2,59.2 C204.2,59.7 202.3,60.8 201.2,61.2 C200.2,61.6 197.2,62.7 196.2,62.2 C195.3,61.7 193.1,58.4 193.2,57.2 Z" fill="#1E9BF5"/>
<path d="M198.2,54.2 C198.5,53.0 201.2,49.3 202.2,48.2 C203.3,47.1 205.9,45.3 207.2,45.2 C208.6,45.1 212.4,46.5 213.2,47.2 C214.1,47.9 214.7,50.2 214.2,51.2 C213.8,52.2 210.4,54.5 209.2,55.2 C208.1,55.9 205.3,56.8 204.2,57.2 C203.2,57.6 201.0,58.6 200.2,58.2 C199.5,57.8 198.0,55.4 198.2,54.2 Z" fill="#1470E6"/>
<path d="M234.2,33.2 C234.5,32.2 237.2,28.9 238.2,28.2 C239.3,27.5 242.2,26.8 243.2,27.2 C244.3,27.6 246.4,30.1 247.2,31.2 C248.1,32.3 249.7,35.0 250.2,36.2 C250.8,37.4 252.4,40.1 252.2,41.2 C252.1,42.3 250.1,45.0 249.2,45.2 C248.4,45.4 246.3,43.9 245.2,43.2 C244.2,42.5 241.3,40.0 240.2,39.2 C239.2,38.4 237.0,36.9 236.2,36.2 C235.5,35.5 234.0,34.2 234.2,33.2 Z" fill="#1EB4FA"/>
<path d="M240.2,32.2 C240.5,31.5 242.5,30.0 243.2,30.2 C244.0,30.4 245.5,33.1 246.2,34.2 C247.0,35.3 248.8,38.1 249.2,39.2 C249.7,40.3 250.5,42.7 250.2,43.2 C250.0,43.7 248.0,43.7 247.2,43.2 C246.5,42.7 245.0,40.0 244.2,39.2 C243.5,38.4 241.7,37.0 241.2,36.2 C240.8,35.4 240.0,32.9 240.2,32.2 Z" fill="#1E9BF5"/>
<path d="M251.2,27.2 C251.6,26.6 254.2,25.2 255.2,25.2 C256.3,25.2 259.5,26.6 260.2,27.2 C261.0,27.8 261.7,29.8 261.2,30.2 C260.8,30.6 257.3,30.6 256.2,30.6 C255.2,30.6 252.8,30.2 252.2,29.8 C251.7,29.4 250.9,27.8 251.2,27.2 Z" fill="#F6C7B3"/>
<path d="M272.9,30.2 C273.5,29.3 277.0,28.3 279.2,27.8 C281.5,27.3 289.8,24.5 291.2,25.8 C292.7,27.1 292.7,37.2 291.2,38.6 C289.8,40.0 281.3,38.2 279.2,37.8 C277.2,37.4 275.0,36.1 274.2,35.2 C273.5,34.3 272.2,31.1 272.9,30.2 Z" fill="#1EB4FA"/>
<path d="M245.2,73.2 C245.6,72.2 248.1,69.3 249.2,68.2 C250.4,67.1 253.7,65.2 255.2,64.2 C256.8,63.2 260.7,60.9 262.2,60.2 C263.8,59.5 267.3,58.1 268.2,58.2 C269.2,58.3 270.2,60.4 270.2,61.2 C270.2,62.0 269.1,64.2 268.2,65.2 C267.4,66.2 264.6,68.4 263.2,69.2 C261.9,70.0 258.8,71.4 257.2,72.2 C255.7,73.0 251.6,75.3 250.2,75.8 C248.9,76.3 246.8,76.5 246.2,76.2 C245.7,75.9 244.9,74.2 245.2,73.2 Z" fill="#1EB4FA"/>
<path d="M250.2,70.2 C250.8,69.4 255.4,66.3 257.2,65.2 C259.1,64.1 264.1,61.4 265.2,61.2 C266.4,61.0 268.0,62.4 267.2,63.2 C266.5,64.0 261.1,67.1 259.2,68.2 C257.4,69.3 253.3,72.0 252.2,72.2 C251.2,72.4 249.7,71.0 250.2,70.2 Z" fill="#1E9BF5"/>
<path d="M232.9,65.2 C233.5,64.9 237.6,64.5 238.2,64.6 C238.9,64.7 238.8,65.9 238.2,66.2 C237.7,66.5 233.9,66.9 233.2,66.8 C232.6,66.7 232.3,65.5 232.9,65.2 Z" fill="#F6C7B3"/>
<path d="M204.2,75.2 C204.5,74.9 206.8,74.4 207.2,74.6 C207.7,74.8 207.9,76.3 207.6,76.6 C207.4,76.9 205.3,77.2 204.9,77.0 C204.4,76.8 204.0,75.5 204.2,75.2 Z" fill="#1EB4FA"/>
<path d="M263.2,76.2 C262.9,77.4 263.9,80.8 264.2,82.2 C264.6,83.6 266.4,86.9 266.2,88.2 C266.1,89.5 264.2,92.0 263.2,93.2 C262.3,94.4 259.4,97.1 258.2,98.2 C257.1,99.3 254.6,101.2 253.2,102.2 C251.9,103.2 248.9,105.5 247.2,106.2 C245.6,106.9 241.2,108.0 239.2,108.2 C237.3,108.4 233.2,108.1 231.2,108.2 C229.3,108.3 225.1,108.7 223.2,109.2 C221.4,109.7 217.9,111.4 216.2,112.2 C214.6,113.0 210.7,115.2 209.2,116.2 C207.8,117.2 205.0,119.1 204.2,120.2 C203.5,121.3 203.0,124.2 203.2,125.2 C203.5,126.2 205.1,127.8 206.2,128.2 C207.4,128.6 211.4,128.3 213.2,128.2 C215.1,128.1 219.6,127.2 221.2,127.2 C222.9,127.2 225.8,127.6 227.2,128.2 C228.7,128.8 231.8,131.4 233.2,132.2 C234.7,133.0 237.6,134.8 239.2,135.2 C240.9,135.6 245.6,135.6 247.2,135.2 C248.9,134.8 251.9,133.2 253.2,132.2 C254.6,131.2 257.2,128.5 258.2,127.2 C259.3,125.9 261.2,122.6 262.2,121.2 C263.3,119.8 265.9,116.6 267.2,115.2 C268.6,113.8 271.8,110.5 273.2,109.2 C274.7,107.9 277.9,105.3 279.2,104.2 C280.6,103.1 282.6,101.2 284.2,100.2 C285.9,99.2 292.2,103.2 293.2,96.2 C294.3,89.2 294.0,48.0 293.2,42.2 C292.5,36.4 288.6,46.6 287.2,48.2 C285.9,49.8 283.4,53.6 282.2,55.2 C281.1,56.8 278.6,59.6 277.2,61.2 C275.9,62.8 272.4,66.9 271.2,68.2 C270.1,69.5 268.2,71.2 267.2,72.2 C266.3,73.2 263.6,75.0 263.2,76.2 Z" fill="#F6C7B3"/>
<path d="M279.2,66.2 C278.4,67.4 277.2,73.5 277.2,75.2 C277.2,76.9 279.6,79.0 279.2,80.2 C278.9,81.4 275.6,84.1 274.2,85.2 C272.9,86.3 269.4,88.2 268.2,89.2 C267.1,90.2 264.6,92.1 264.2,93.2 C263.9,94.3 264.6,97.4 265.2,98.2 C265.9,99.0 268.1,100.1 269.2,100.2 C270.4,100.3 273.8,99.7 275.2,99.2 C276.7,98.7 279.1,97.2 281.2,96.2 C283.4,95.2 291.8,95.8 293.2,91.2 C294.7,86.6 294.3,61.3 293.2,58.2 C292.2,55.1 285.9,64.2 284.2,65.2 C282.6,66.2 280.1,65.0 279.2,66.2 Z" fill="#F0AE93"/>
<path d="M245.2,94.2 C245.5,93.4 247.3,89.4 248.2,88.2 C249.2,87.0 252.2,84.6 253.2,84.2 C254.3,83.8 256.5,84.2 257.2,84.6 C258.0,85.0 259.8,86.5 259.6,87.2 C259.5,87.9 257.3,89.5 256.2,90.2 C255.2,90.9 252.4,92.6 251.2,93.2 C250.1,93.8 247.0,95.1 246.2,95.2 C245.5,95.3 245.0,95.0 245.2,94.2 Z" fill="#1EB4FA"/>
<path d="M183.2,107.2 C183.6,106.4 186.2,105.9 187.2,105.8 C188.3,105.7 192.0,106.1 192.2,106.6 C192.5,107.1 190.2,109.5 189.2,110.2 C188.3,110.9 185.0,113.0 184.2,112.6 C183.5,112.2 182.9,108.0 183.2,107.2 Z" fill="#1EB4FA"/>
<path d="M197.6,96.2 C197.9,96.0 199.4,95.6 199.6,95.8 C199.9,96.0 199.9,97.6 199.6,97.8 C199.4,98.0 198.1,98.0 197.9,97.8 C197.6,97.6 197.4,96.4 197.6,96.2 Z" fill="#1EB4FA"/>
<path d="M204.2,75.2 C204.5,75.0 206.8,74.5 207.2,74.6 C207.7,74.7 207.9,76.0 207.6,76.2 C207.4,76.4 205.3,76.7 204.9,76.6 C204.4,76.5 204.0,75.4 204.2,75.2 Z" fill="#1EB4FA"/>
<use href="#coast" stroke-width="1"/>
</g>
<rect class="fr" x="0" y="0" width="288.3" height="164.6"/>
<path class="tk" d="M27.46,0v-6.1M27.46,164.6v6.1M109.83,0v-6.1M109.83,164.6v6.1M192.20,0v-6.1M192.20,164.6v6.1M274.57,0v-6.1M274.57,164.6v6.1M0,164.60h-6.1M288.3,164.60h6.1M0,109.73h-6.1M288.3,109.73h6.1M0,54.87h-6.1M288.3,54.87h6.1M0,0.00h-6.1M288.3,0.00h6.1"/><path class="tm" d="M0.00,0v-3.4M0.00,164.6v3.4M54.91,0v-3.4M54.91,164.6v3.4M82.37,0v-3.4M82.37,164.6v3.4M137.29,0v-3.4M137.29,164.6v3.4M164.74,0v-3.4M164.74,164.6v3.4M219.66,0v-3.4M219.66,164.6v3.4M247.11,0v-3.4M247.11,164.6v3.4M0,150.88h-3.4M288.3,150.88h3.4M0,137.17h-3.4M288.3,137.17h3.4M0,123.45h-3.4M288.3,123.45h3.4M0,96.02h-3.4M288.3,96.02h3.4M0,82.30h-3.4M288.3,82.30h3.4M0,68.58h-3.4M288.3,68.58h3.4M0,41.15h-3.4M288.3,41.15h3.4M0,27.43h-3.4M288.3,27.43h3.4M0,13.72h-3.4M288.3,13.72h3.4"/>
<text class="ax" x="-14.8" y="5.2" text-anchor="end">40N</text>
<text class="ax" x="-14.8" y="60.1" text-anchor="end">20N</text>
<text class="ax" x="-19.3" y="114.9" text-anchor="middle">0</text>
<text class="ax" x="-14.8" y="169.8" text-anchor="end">20S</text>
<text class="pl" x="-0.9" y="-12.0">b)</text>
</g>
<g transform="translate(40.05,227.0)">
<g clip-path="url(#cp)">
<path d="M183.6,53.3 C184.0,52.7 186.0,51.2 186.9,50.7 C187.9,50.1 190.4,49.3 191.6,48.7 C192.8,48.0 195.8,46.0 196.9,45.3 C198.1,44.6 200.7,43.3 201.6,42.9 C202.6,42.5 204.3,41.7 204.9,42.0 C205.6,42.3 206.4,44.6 206.9,45.3 C207.5,46.0 209.0,47.4 209.6,48.0 C210.3,48.6 211.6,50.0 212.3,50.7 C212.9,51.4 214.3,53.3 214.9,54.0 C215.6,54.7 217.1,56.0 217.6,56.7 C218.2,57.4 219.8,59.5 219.6,60.0 C219.5,60.5 217.2,60.6 216.3,60.7 C215.3,60.8 212.7,60.4 211.6,60.7 C210.6,60.9 208.6,62.1 207.6,62.7 C206.7,63.2 204.7,64.8 203.6,65.3 C202.5,65.9 199.7,67.0 198.3,67.3 C196.8,67.7 193.1,67.8 191.6,68.0 C190.2,68.2 187.3,68.8 186.3,68.7 C185.2,68.5 183.1,67.2 182.9,66.7 C182.8,66.1 184.6,64.7 184.9,64.0 C185.3,63.3 186.4,61.6 186.3,60.7 C186.1,59.7 183.9,56.9 183.6,56.0 C183.3,55.1 183.2,54.0 183.6,53.3 Z" fill="#F6C7B3"/>
<path d="M189.6,54.0 C190.1,52.9 192.6,51.4 193.6,50.7 C194.7,50.0 197.1,48.5 198.3,48.0 C199.5,47.5 202.5,46.7 203.6,46.7 C204.7,46.7 207.0,47.4 207.6,48.0 C208.3,48.6 208.9,50.5 208.9,51.3 C209.0,52.1 208.8,53.9 208.3,54.7 C207.8,55.5 205.8,57.2 204.9,58.0 C204.1,58.8 202.0,60.7 200.9,61.3 C199.9,62.0 197.4,63.1 196.3,63.3 C195.2,63.6 192.4,63.7 191.6,63.3 C190.8,62.9 189.9,61.1 189.6,60.0 C189.4,58.9 189.1,55.1 189.6,54.0 Z" fill="#F0AE93"/>
<path d="M190.9,54.7 C191.5,54.0 193.9,52.6 194.9,52.0 C196.0,51.4 198.5,50.4 199.6,50.0 C200.7,49.6 203.5,49.0 204.3,49.1 C205.1,49.2 206.1,50.1 206.3,50.7 C206.4,51.3 206.0,53.2 205.6,54.0 C205.2,54.8 203.8,56.6 202.9,57.3 C202.1,58.0 199.9,59.5 198.9,60.0 C198.0,60.5 195.8,61.2 194.9,61.3 C194.1,61.4 192.1,61.1 191.6,60.7 C191.1,60.3 190.6,58.7 190.6,58.0 C190.5,57.3 190.4,55.4 190.9,54.7 Z" fill="#E98B75"/>
<path d="M215.6,40.0 C215.9,39.6 217.5,38.6 218.3,38.4 C219.1,38.2 221.2,38.2 222.3,38.4 C223.4,38.6 226.4,39.6 227.6,40.0 C228.8,40.4 231.2,41.4 232.3,42.0 C233.4,42.6 235.8,44.5 236.9,45.3 C238.1,46.2 240.7,48.4 241.6,49.3 C242.6,50.2 244.6,52.0 244.9,52.7 C245.3,53.4 244.8,54.8 244.3,55.3 C243.8,55.9 241.8,57.2 240.9,57.3 C240.1,57.5 237.9,57.1 236.9,56.7 C236.0,56.3 234.0,54.7 232.9,54.0 C231.9,53.3 229.4,51.5 228.3,50.7 C227.2,49.9 224.7,48.1 223.6,47.3 C222.6,46.5 220.5,44.7 219.6,44.0 C218.7,43.3 216.8,41.8 216.3,41.3 C215.8,40.8 215.4,40.4 215.6,40.0 Z" fill="#F6C7B3"/>
<path d="M87.7,50.1 C87.9,49.8 89.3,49.8 89.5,50.1 C89.7,50.5 89.7,52.7 89.5,53.1 C89.3,53.4 87.9,53.4 87.7,53.1 C87.5,52.7 87.5,50.5 87.7,50.1 Z" fill="#F6C7B3"/>
<use href="#coast" stroke-width="1"/>
</g>
<rect class="fr" x="0" y="0" width="288.3" height="164.6"/>
<path class="tk" d="M27.46,0v-6.1M27.46,164.6v6.1M109.83,0v-6.1M109.83,164.6v6.1M192.20,0v-6.1M192.20,164.6v6.1M274.57,0v-6.1M274.57,164.6v6.1M0,164.60h-6.1M288.3,164.60h6.1M0,109.73h-6.1M288.3,109.73h6.1M0,54.87h-6.1M288.3,54.87h6.1M0,0.00h-6.1M288.3,0.00h6.1"/><path class="tm" d="M0.00,0v-3.4M0.00,164.6v3.4M54.91,0v-3.4M54.91,164.6v3.4M82.37,0v-3.4M82.37,164.6v3.4M137.29,0v-3.4M137.29,164.6v3.4M164.74,0v-3.4M164.74,164.6v3.4M219.66,0v-3.4M219.66,164.6v3.4M247.11,0v-3.4M247.11,164.6v3.4M0,150.88h-3.4M288.3,150.88h3.4M0,137.17h-3.4M288.3,137.17h3.4M0,123.45h-3.4M288.3,123.45h3.4M0,96.02h-3.4M288.3,96.02h3.4M0,82.30h-3.4M288.3,82.30h3.4M0,68.58h-3.4M288.3,68.58h3.4M0,41.15h-3.4M288.3,41.15h3.4M0,27.43h-3.4M288.3,27.43h3.4M0,13.72h-3.4M288.3,13.72h3.4"/>
<text class="ax" x="-14.8" y="5.2" text-anchor="end">40N</text>
<text class="ax" x="-14.8" y="60.1" text-anchor="end">20N</text>
<text class="ax" x="-19.3" y="114.9" text-anchor="middle">0</text>
<text class="ax" x="-14.8" y="169.8" text-anchor="end">20S</text>
<text class="ax" x="27.5" y="191.6" text-anchor="middle">30W</text>
<text class="ax" x="109.8" y="191.6" text-anchor="middle">0</text>
<text class="ax" x="192.2" y="191.6" text-anchor="middle">30E</text>
<text class="ax" x="274.6" y="191.6" text-anchor="middle">60E</text>
<text class="pl" x="-0.9" y="-11.6">c)</text>
</g>
<g transform="translate(380.75,227.0)">
<g clip-path="url(#cp)">
<path d="M8.9,77.0 C8.9,76.0 10.2,73.8 11.2,73.0 C12.3,72.2 15.3,70.6 17.2,70.0 C19.2,69.4 24.6,68.6 27.2,68.4 C29.9,68.2 36.4,68.2 39.2,68.0 C42.1,67.8 48.6,67.2 51.2,67.0 C53.9,66.8 59.1,66.4 61.2,66.0 C63.4,65.6 67.5,63.8 69.2,63.6 C71.0,63.4 74.6,63.5 76.2,64.0 C77.9,64.5 81.2,67.3 83.2,68.0 C85.3,68.7 90.6,69.6 93.2,70.0 C95.9,70.4 102.4,70.8 105.2,71.0 C108.1,71.2 116.1,72.0 117.2,72.0 C118.4,72.0 114.1,70.6 114.8,70.7 C115.5,70.7 121.5,71.9 123.3,72.4 C125.2,72.9 128.7,74.1 130.1,74.9 C131.6,75.7 134.3,78.1 135.2,79.2 C136.2,80.3 137.3,83.0 137.8,84.3 C138.3,85.6 138.9,88.9 139.5,90.3 C140.1,91.6 142.0,94.2 142.9,95.4 C143.8,96.5 146.1,98.9 147.2,99.6 C148.3,100.3 150.9,101.1 152.3,101.3 C153.7,101.5 157.5,101.5 159.1,101.3 C160.7,101.1 164.3,100.2 165.9,99.6 C167.6,99.0 171.3,97.1 172.7,96.2 C174.2,95.3 176.6,92.8 177.8,92.0 C179.1,91.1 181.5,89.9 183.0,89.4 C184.4,89.0 188.3,88.2 189.8,88.2 C191.2,88.2 194.5,88.9 194.9,89.4 C195.3,90.0 194.0,92.0 193.2,92.8 C192.4,93.6 189.3,95.4 188.1,96.2 C186.8,97.0 184.2,98.7 183.0,99.6 C181.7,100.6 179.1,103.0 177.8,103.9 C176.6,104.8 174.2,106.7 172.7,107.3 C171.3,107.9 167.6,108.6 165.9,109.0 C164.3,109.4 160.5,110.3 159.1,110.7 C157.7,111.1 155.0,111.9 154.0,112.4 C153.0,112.9 151.5,114.9 150.6,115.0 C149.7,115.1 147.3,113.8 146.3,113.3 C145.3,112.7 143.1,111.4 142.1,110.7 C141.0,110.0 138.6,108.2 137.8,107.3 C137.0,106.4 136.0,104.0 135.2,103.0 C134.5,102.1 132.8,100.3 131.8,99.6 C130.9,98.9 128.6,97.9 127.6,97.1 C126.6,96.3 124.4,93.5 123.3,92.8 C122.2,92.2 119.6,91.8 118.2,91.6 C116.8,91.4 111.5,91.2 111.4,91.1 C111.3,91.0 117.1,91.2 117.2,91.0 C117.4,90.8 113.7,89.7 112.2,89.6 C110.8,89.5 107.0,90.2 105.2,90.4 C103.5,90.6 99.2,91.3 97.2,91.6 C95.3,91.9 90.9,92.7 89.2,93.0 C87.6,93.3 84.7,94.1 83.2,94.0 C81.8,93.9 78.6,91.9 77.2,92.0 C75.9,92.1 73.6,94.5 72.2,95.0 C70.9,95.5 67.3,96.6 66.2,96.0 C65.2,95.4 64.1,91.2 63.2,90.0 C62.4,88.8 60.7,86.6 59.2,86.0 C57.8,85.4 53.6,85.2 51.2,85.0 C48.9,84.8 42.1,84.1 39.2,84.0 C36.4,83.9 29.9,84.4 27.2,84.4 C24.6,84.4 19.2,84.0 17.2,83.6 C15.3,83.2 12.3,81.8 11.2,81.0 C10.2,80.2 8.9,78.0 8.9,77.0 Z" fill="#F6C7B3"/>
<path d="M21.2,77.0 C21.6,76.3 24.6,74.6 26.2,74.0 C27.9,73.4 33.0,72.8 35.2,72.4 C37.5,72.0 42.9,71.3 45.2,71.0 C47.6,70.7 53.1,70.0 55.2,69.6 C57.4,69.2 61.3,68.4 63.2,68.0 C65.2,67.6 69.6,66.1 71.2,66.0 C72.9,65.9 75.8,66.4 77.2,67.0 C78.7,67.6 81.3,70.4 83.2,71.0 C85.2,71.6 90.6,72.1 93.2,72.4 C95.9,72.7 102.6,73.4 105.2,73.6 C107.9,73.8 113.5,74.1 115.2,74.4 C117.0,74.7 120.2,75.4 120.2,76.0 C120.2,76.6 116.8,78.4 115.2,79.0 C113.7,79.6 109.2,80.5 107.2,81.0 C105.3,81.5 101.2,82.4 99.2,83.0 C97.3,83.6 93.2,85.4 91.2,86.0 C89.3,86.6 84.9,87.9 83.2,88.0 C81.6,88.1 78.3,87.5 77.2,87.0 C76.2,86.5 75.2,84.7 74.2,84.0 C73.3,83.3 70.8,81.5 69.2,81.0 C67.7,80.5 63.4,80.1 61.2,80.0 C59.1,79.9 53.9,80.3 51.2,80.4 C48.6,80.5 41.9,80.9 39.2,81.0 C36.6,81.1 31.2,81.1 29.2,81.0 C27.3,80.9 24.2,80.5 23.2,80.0 C22.3,79.5 20.9,77.7 21.2,77.0 Z" fill="#F0AE93"/>
<path d="M43.2,75.6 C43.4,75.1 47.8,73.9 49.2,73.6 C50.7,73.3 54.0,72.8 55.2,73.0 C56.5,73.2 59.2,74.5 59.2,75.0 C59.2,75.5 56.6,77.1 55.2,77.4 C53.9,77.7 49.7,77.8 48.2,77.6 C46.8,77.4 43.1,76.1 43.2,75.6 Z" fill="#E98B75"/>
<path d="M19.2,122.0 C19.5,121.8 21.4,121.8 21.6,122.0 C21.9,122.2 21.9,123.4 21.6,123.6 C21.4,123.8 19.5,123.8 19.2,123.6 C19.0,123.4 19.0,122.2 19.2,122.0 Z" fill="#F6C7B3"/>
<path d="M161.2,66.0 C161.8,65.0 165.6,63.7 167.2,63.0 C168.9,62.3 173.8,61.2 175.2,60.0 C176.7,58.8 178.7,54.6 179.2,53.0 C179.8,51.4 179.5,48.3 180.2,47.0 C181.0,45.7 183.7,43.1 185.2,42.0 C186.8,40.9 191.3,38.7 193.2,38.0 C195.2,37.3 199.8,35.9 201.2,36.0 C202.7,36.1 204.4,37.9 205.2,39.0 C206.1,40.1 207.5,43.6 208.2,45.0 C209.0,46.4 211.8,49.6 211.6,50.6 C211.5,51.6 208.5,52.4 207.2,53.0 C206.0,53.6 202.7,55.2 201.2,56.0 C199.8,56.8 196.4,59.2 195.2,60.0 C194.1,60.8 191.8,62.3 191.2,63.0 C190.7,63.7 190.1,65.2 190.2,66.0 C190.4,66.8 192.2,69.2 192.2,70.0 C192.2,70.8 191.3,72.6 190.2,73.0 C189.2,73.4 184.8,73.2 183.2,73.0 C181.7,72.8 178.7,71.0 177.2,71.0 C175.8,71.0 172.7,72.6 171.2,73.0 C169.8,73.4 166.3,74.2 165.2,74.0 C164.2,73.8 162.7,72.0 162.2,71.0 C161.8,70.0 160.7,67.0 161.2,66.0 Z" fill="#F6C7B3"/>
<path d="M177.2,64.0 C177.5,62.9 180.3,59.4 181.2,58.0 C182.2,56.6 184.4,53.3 185.2,52.0 C186.1,50.7 187.2,48.1 188.2,47.0 C189.3,45.9 192.7,43.7 194.2,43.0 C195.8,42.3 199.8,40.8 201.2,41.0 C202.7,41.2 205.4,43.9 206.2,45.0 C207.1,46.1 209.0,49.4 208.6,50.4 C208.3,51.4 204.6,52.3 203.2,53.0 C201.9,53.7 198.6,55.2 197.2,56.0 C195.9,56.8 193.2,59.0 192.2,60.0 C191.3,61.0 189.8,63.0 189.2,64.0 C188.7,65.0 188.0,67.4 187.2,68.0 C186.5,68.6 184.2,69.1 183.2,69.0 C182.3,68.9 180.0,67.6 179.2,67.0 C178.5,66.4 177.0,65.1 177.2,64.0 Z" fill="#F0AE93"/>
<path d="M182.0,63.4 C182.1,63.0 183.4,62.8 183.6,63.0 C183.9,63.2 184.5,64.6 184.5,65.0 C184.4,65.4 183.1,66.2 182.9,66.0 C182.6,65.8 182.0,63.8 182.0,63.4 Z" fill="#E98B75"/>
<path d="M218.4,33.6 C219.0,33.2 222.1,32.1 223.5,31.9 C225.0,31.6 229.1,31.5 230.4,31.9 C231.6,32.2 233.6,33.8 233.8,34.4 C234.0,35.0 232.9,36.8 232.1,37.0 C231.2,37.2 228.2,36.2 227.0,36.1 C225.7,36.0 222.8,36.2 221.8,36.1 C220.9,36.0 219.2,35.6 218.8,35.3 C218.4,35.0 217.9,34.0 218.4,33.6 Z" fill="#F6C7B3"/>
<path d="M218.4,101.1 C218.8,100.1 220.6,97.9 221.8,96.9 C223.1,95.8 227.0,93.5 228.7,92.6 C230.3,91.7 233.8,90.0 235.5,89.2 C237.1,88.4 240.7,86.4 242.3,85.8 C243.9,85.2 247.5,84.2 249.1,84.1 C250.7,84.0 254.5,84.5 255.9,84.9 C257.4,85.3 259.8,87.5 261.0,87.5 C262.3,87.5 264.7,85.6 266.1,84.9 C267.6,84.2 271.1,82.1 273.0,81.5 C274.8,80.9 278.8,79.9 281.5,79.8 C284.1,79.7 293.5,80.1 295.1,80.7 C296.7,81.3 296.5,83.8 295.1,84.9 C293.7,86.1 285.2,88.8 283.2,90.0 C281.1,91.3 279.2,94.0 278.1,95.1 C276.9,96.3 274.5,98.3 273.8,99.4 C273.1,100.5 272.0,103.2 272.1,104.5 C272.2,105.8 274.1,108.9 274.7,110.5 C275.2,112.0 276.3,115.7 276.4,117.3 C276.5,118.9 276.0,122.8 275.5,124.1 C275.0,125.4 273.2,127.7 272.1,128.4 C271.0,129.1 267.9,130.1 266.1,130.1 C264.4,130.1 259.9,128.7 257.6,128.4 C255.4,128.1 249.9,127.7 247.4,127.5 C244.9,127.4 239.4,127.3 237.2,127.2 C234.9,127.1 230.3,126.9 228.7,126.7 C227.0,126.4 224.4,125.7 223.5,125.0 C222.7,124.2 221.9,121.8 221.8,120.7 C221.7,119.6 222.8,116.9 222.7,115.6 C222.6,114.3 221.5,110.9 221.0,109.6 C220.5,108.4 219.1,106.4 218.8,105.4 C218.5,104.3 218.1,102.1 218.4,101.1 Z" fill="#F6C7B3"/>
<path d="M222.7,107.1 C222.9,105.6 224.3,103.1 225.2,102.0 C226.2,100.8 228.9,98.5 230.4,97.7 C231.8,96.9 235.5,95.4 237.2,95.1 C238.8,94.9 242.4,95.6 244.0,96.0 C245.6,96.4 249.2,97.8 250.8,98.6 C252.4,99.3 256.1,101.0 257.6,102.0 C259.2,102.9 262.4,105.1 263.6,106.2 C264.8,107.3 267.1,110.0 267.8,111.3 C268.6,112.7 269.7,116.0 269.5,117.3 C269.4,118.6 268.0,121.6 267.0,122.4 C266.0,123.2 262.8,123.9 261.0,124.1 C259.3,124.3 254.6,123.9 252.5,123.8 C250.5,123.7 246.0,123.3 244.0,123.3 C241.9,123.2 237.3,123.4 235.5,123.3 C233.6,123.2 230.0,122.9 228.7,122.4 C227.3,121.9 225.1,120.0 224.4,119.0 C223.7,118.0 223.4,115.3 223.2,113.9 C223.0,112.5 222.4,108.5 222.7,107.1 Z" fill="#F0AE93"/>
<path d="M226.1,113.0 C226.6,112.1 229.2,109.6 230.4,108.8 C231.5,108.0 234.1,106.7 235.5,106.2 C236.8,105.8 240.0,105.0 241.4,105.0 C242.9,105.0 246.0,105.8 247.4,106.2 C248.8,106.7 252.1,108.1 253.4,108.8 C254.6,109.5 256.9,111.3 257.6,112.2 C258.3,113.1 259.5,115.5 259.3,116.4 C259.1,117.4 257.0,119.2 255.9,119.9 C254.8,120.5 251.5,121.4 250.0,121.6 C248.4,121.8 244.9,121.7 243.1,121.6 C241.4,121.5 237.1,121.0 235.5,120.7 C233.8,120.4 230.6,119.5 229.5,119.0 C228.4,118.5 227.0,117.2 226.6,116.4 C226.2,115.7 225.7,114.0 226.1,113.0 Z" fill="#E98B75"/>
<path d="M183.2,87.9 C184.2,87.6 187.3,87.8 188.4,87.9 C189.5,88.0 191.7,88.6 192.5,88.9 C193.4,89.2 195.1,90.0 195.1,90.5 C195.1,90.9 193.3,92.0 192.5,92.6 C191.8,93.1 189.7,94.5 188.9,95.1 C188.1,95.8 186.5,97.3 185.8,97.7 C185.1,98.2 183.9,98.8 183.2,98.8 C182.5,98.7 180.5,98.3 180.1,97.2 C179.7,96.2 179.7,91.1 180.1,90.0 C180.5,88.8 182.2,88.1 183.2,87.9 Z" fill="#F6C7B3"/>
<path d="M232.5,13.2 C232.7,13.1 234.8,14.6 235.7,15.3 C236.5,15.9 238.7,18.0 239.8,18.9 C240.9,19.8 243.7,21.7 245.0,22.5 C246.2,23.3 248.9,24.9 250.2,25.6 C251.4,26.3 254.1,27.7 255.4,28.2 C256.6,28.8 259.3,29.9 260.5,30.3 C261.8,30.7 264.5,31.7 265.7,31.9 C267.0,32.0 269.7,31.6 270.9,31.3 C272.2,31.0 275.0,29.8 276.1,29.3 C277.2,28.8 279.3,27.5 280.2,27.2 C281.2,26.9 282.1,26.7 283.9,26.7 C285.6,26.7 293.5,22.3 294.8,27.2 C296.1,32.0 295.6,62.2 294.8,67.1 C294.0,71.9 290.0,67.2 288.0,67.4 C286.0,67.5 280.2,68.2 278.2,68.4 C276.1,68.6 272.4,69.1 270.9,68.9 C269.4,68.8 267.0,67.8 265.7,67.4 C264.5,66.9 261.7,65.4 260.5,65.3 C259.4,65.2 257.1,66.3 256.4,66.9 C255.7,67.4 254.4,69.2 254.3,70.0 C254.2,70.7 255.5,72.3 255.4,73.1 C255.2,73.8 253.9,75.7 253.3,76.2 C252.7,76.7 251.3,77.0 250.6,77.5 C249.9,78.1 248.5,79.9 247.5,80.6 C246.5,81.3 243.7,82.6 242.3,83.2 C241.0,83.8 237.5,85.2 236.1,85.8 C234.7,86.4 232.0,87.5 230.9,87.9 C229.8,88.3 227.8,89.5 226.8,89.4 C225.8,89.4 223.7,87.9 222.6,87.4 C221.5,86.8 218.7,85.4 217.4,84.8 C216.2,84.2 213.5,82.8 212.2,82.2 C211.0,81.6 208.2,80.3 207.1,79.6 C205.9,78.9 203.9,77.2 202.9,76.5 C201.9,75.8 199.6,74.0 198.8,73.9 C197.9,73.8 196.5,74.9 195.7,75.4 C194.9,76.0 192.8,78.5 192.0,78.6 C191.3,78.6 189.4,76.6 189.4,76.0 C189.4,75.3 191.4,74.0 192.0,73.3 C192.7,72.6 194.4,70.8 194.6,70.1 C194.8,69.5 194.1,68.1 193.6,67.6 C193.0,67.0 190.0,66.2 190.0,65.5 C190.0,64.7 192.5,62.3 193.6,61.3 C194.6,60.3 197.5,58.1 198.8,57.2 C200.0,56.3 202.7,54.4 204.0,53.6 C205.2,52.8 208.0,51.1 209.1,50.4 C210.3,49.8 212.3,48.4 213.3,47.9 C214.3,47.3 216.6,46.2 217.4,45.8 C218.2,45.3 219.3,44.6 220.0,44.2 C220.8,43.8 222.7,42.9 223.7,42.7 C224.6,42.4 226.8,42.1 227.8,42.1 C228.8,42.2 231.1,42.8 232.0,43.2 C232.8,43.6 234.4,44.7 235.1,45.3 C235.7,45.8 237.0,47.3 237.7,47.9 C238.3,48.4 239.6,49.6 240.2,49.9 C240.9,50.2 242.9,50.6 243.4,50.4 C243.8,50.3 243.5,49.4 244.0,49.0 C244.4,48.5 246.2,47.3 247.1,46.9 C247.9,46.5 250.2,45.6 251.2,45.3 C252.2,45.0 254.5,44.6 255.4,44.3 C256.2,44.0 257.7,43.2 258.5,42.7 C259.2,42.2 260.8,40.7 261.6,40.1 C262.3,39.6 264.9,38.3 264.7,37.9 C264.4,37.4 260.6,36.8 259.5,36.5 C258.4,36.2 256.3,35.9 255.4,35.5 C254.4,35.1 252.5,34.0 251.7,33.4 C251.0,32.8 249.8,31.0 249.1,30.3 C248.5,29.6 247.4,27.8 246.5,27.2 C245.7,26.6 243.2,26.1 242.4,25.6 C241.6,25.2 240.2,24.1 239.8,23.6 C239.4,23.0 239.7,21.6 239.3,21.0 C238.9,20.3 237.3,19.0 236.7,18.4 C236.1,17.7 234.6,16.4 234.1,15.8 C233.6,15.2 232.4,13.3 232.5,13.2 Z" fill="#1EB4FA"/>
<path d="M239.3,32.9 C239.2,32.5 240.0,31.8 240.8,32.4 C241.7,32.9 245.7,36.8 246.5,37.6 C247.4,38.4 247.7,39.0 247.6,39.1 C247.5,39.2 246.2,39.0 245.5,38.6 C244.8,38.2 242.6,36.5 241.9,35.8 C241.1,35.1 239.4,33.3 239.3,32.9 Z" fill="#1EB4FA"/>
<path d="M217.4,47.9 C217.8,47.4 219.0,46.6 219.5,46.8 C220.0,47.1 221.0,49.2 221.6,49.9 C222.1,50.7 223.4,52.3 224.2,53.0 C224.9,53.8 226.9,55.5 227.8,56.1 C228.7,56.8 231.0,58.1 232.0,58.7 C232.9,59.4 235.3,60.7 236.1,61.3 C236.9,62.0 238.3,63.2 238.7,63.9 C239.1,64.7 239.4,66.9 239.2,67.6 C239.0,68.2 237.8,69.3 237.1,69.6 C236.5,69.9 234.4,70.0 233.5,70.1 C232.6,70.3 230.6,71.3 229.9,71.2 C229.2,71.1 228.3,70.1 227.8,69.6 C227.3,69.1 226.3,67.5 225.7,67.0 C225.2,66.5 223.8,65.9 223.1,65.5 C222.5,65.1 220.7,64.4 220.0,63.9 C219.3,63.5 217.9,62.5 217.4,61.9 C216.9,61.2 216.1,59.6 215.9,58.7 C215.7,57.9 215.8,55.5 215.9,54.6 C215.9,53.7 216.2,51.8 216.4,51.0 C216.6,50.2 217.1,48.3 217.4,47.9 Z" fill="#FFFFFF"/>
<path d="M218.0,55.6 C218.3,55.2 219.5,54.4 220.0,54.6 C220.6,54.8 221.9,56.5 222.6,57.2 C223.3,57.9 224.9,59.6 225.7,60.3 C226.5,61.0 228.5,62.3 229.4,62.9 C230.2,63.5 232.3,64.9 233.0,65.5 C233.7,66.0 235.1,67.2 235.1,67.6 C235.1,67.9 233.6,68.5 233.0,68.6 C232.4,68.7 230.6,68.3 229.9,68.1 C229.2,67.9 228.0,67.4 227.3,67.0 C226.6,66.7 224.9,65.9 224.2,65.5 C223.4,65.0 221.7,64.0 221.1,63.4 C220.4,62.8 218.9,61.4 218.5,60.8 C218.0,60.2 217.5,58.8 217.4,58.2 C217.4,57.6 217.6,56.1 218.0,55.6 Z" fill="#F6C7B3"/>
<path d="M263.9,55.4 C264.1,54.8 265.8,53.7 266.5,53.2 C267.1,52.7 268.7,51.7 269.4,51.3 C270.2,50.9 272.1,49.8 272.8,49.9 C273.4,49.9 274.4,51.1 274.6,51.7 C274.8,52.3 274.9,54.0 274.6,54.7 C274.4,55.3 273.0,56.7 272.4,57.3 C271.8,57.8 270.2,59.1 269.4,59.5 C268.7,59.9 267.0,60.7 266.5,60.6 C265.9,60.5 265.3,59.0 265.0,58.4 C264.7,57.7 263.7,56.0 263.9,55.4 Z" fill="#FFFFFF"/>
<path d="M243.4,65.0 C243.5,64.6 245.6,63.9 246.5,63.9 C247.3,64.0 250.4,64.8 250.6,65.2 C250.9,65.5 249.2,66.7 248.5,66.8 C247.9,67.0 246.1,66.7 245.4,66.5 C244.8,66.3 243.2,65.3 243.4,65.0 Z" fill="#FFFFFF"/>
<path d="M251.7,39.1 C252.2,38.8 254.8,38.6 255.4,38.7 C255.9,38.9 256.6,40.1 256.5,40.6 C256.4,41.0 255.2,42.2 254.6,42.4 C254.1,42.7 252.5,42.9 252.0,42.8 C251.5,42.7 250.6,42.1 250.5,41.7 C250.5,41.3 251.1,39.5 251.7,39.1 Z" fill="#FFFFFF"/>
<path d="M191.5,65.5 C191.7,64.9 193.6,63.2 194.6,62.4 C195.6,61.5 198.6,59.2 199.8,58.2 C201.1,57.3 203.9,55.3 205.0,54.6 C206.1,53.9 208.3,52.6 209.1,52.5 C210.0,52.4 211.6,53.1 212.2,53.6 C212.9,54.0 214.5,55.4 214.8,56.1 C215.2,56.9 215.2,58.8 215.4,59.8 C215.5,60.7 215.9,63.0 216.4,63.9 C216.9,64.9 218.6,66.8 219.5,67.6 C220.4,68.3 222.8,69.5 223.7,70.1 C224.5,70.8 226.2,72.1 226.8,72.7 C227.3,73.4 227.9,75.2 228.3,75.9 C228.7,76.5 229.9,78.0 229.9,78.4 C229.8,78.9 228.6,79.4 227.8,79.5 C227.1,79.5 224.7,79.2 223.7,79.0 C222.7,78.7 220.5,77.7 219.5,77.4 C218.5,77.1 216.4,76.7 215.4,76.4 C214.4,76.1 212.2,75.2 211.2,74.8 C210.2,74.4 208.1,73.6 207.1,73.3 C206.1,72.9 203.9,72.0 202.9,71.7 C201.9,71.4 199.7,71.0 198.8,70.7 C197.8,70.4 195.8,69.5 195.1,69.1 C194.5,68.7 193.5,68.0 193.1,67.6 C192.6,67.1 191.3,66.1 191.5,65.5 Z" fill="#1E9BF5"/>
<path d="M194.6,65.5 C194.7,64.9 196.5,63.1 197.2,62.4 C198.0,61.6 199.9,59.9 200.8,59.3 C201.8,58.6 204.0,57.2 205.0,56.7 C206.0,56.2 208.3,55.1 209.1,55.1 C209.9,55.1 211.3,56.0 211.7,56.7 C212.2,57.3 212.7,59.4 212.8,60.3 C212.8,61.2 212.5,63.1 212.2,63.9 C212.0,64.7 211.3,66.4 210.7,67.0 C210.1,67.7 208.5,68.8 207.6,69.1 C206.7,69.4 204.4,69.6 203.4,69.6 C202.4,69.6 200.2,69.4 199.3,69.1 C198.4,68.9 196.7,68.0 196.2,67.6 C195.6,67.1 194.5,66.1 194.6,65.5 Z" fill="#1470E6"/>
<path d="M199.8,62.9 C199.9,62.2 201.7,60.3 202.4,59.8 C203.1,59.2 204.8,58.3 205.5,58.2 C206.2,58.1 207.7,58.4 208.1,58.7 C208.5,59.1 209.2,60.6 209.1,61.3 C209.1,62.0 208.1,63.9 207.6,64.4 C207.0,65.0 205.2,65.9 204.5,66.0 C203.7,66.1 201.9,65.9 201.4,65.5 C200.8,65.1 199.7,63.6 199.8,62.9 Z" fill="#1468CC"/>
<path d="M220.5,46.3 C220.9,45.7 223.2,44.5 224.2,44.2 C225.1,44.0 227.4,44.0 228.3,44.2 C229.3,44.4 231.1,45.3 232.0,45.8 C232.8,46.3 234.4,47.7 235.1,48.4 C235.7,49.0 237.0,50.3 237.7,51.0 C238.3,51.6 240.0,52.9 240.8,53.6 C241.5,54.2 243.2,55.6 243.9,56.1 C244.6,56.7 246.3,57.7 246.5,58.2 C246.7,58.7 245.9,60.1 245.4,60.3 C244.9,60.5 243.1,60.4 242.3,60.3 C241.5,60.2 239.6,59.6 238.7,59.3 C237.8,58.9 235.9,58.1 235.1,57.7 C234.2,57.3 232.3,56.1 231.4,55.6 C230.6,55.1 228.7,54.1 227.8,53.6 C226.9,53.0 224.9,51.5 224.2,51.0 C223.4,50.4 222.0,49.4 221.6,48.9 C221.1,48.3 220.2,46.9 220.5,46.3 Z" fill="#1E9BF5"/>
<path d="M224.2,48.4 C224.4,47.9 226.0,46.5 226.8,46.3 C227.5,46.1 229.6,46.5 230.4,46.8 C231.2,47.1 232.8,48.3 233.5,48.9 C234.3,49.5 235.9,51.3 236.6,52.0 C237.3,52.7 238.7,54.0 239.2,54.6 C239.7,55.2 240.9,56.8 240.8,57.2 C240.6,57.6 238.9,58.3 238.2,58.2 C237.5,58.2 235.9,57.1 235.1,56.7 C234.3,56.2 232.3,55.2 231.4,54.6 C230.6,54.0 228.6,52.5 227.8,52.0 C227.1,51.5 225.6,50.9 225.2,50.4 C224.8,50.0 224.0,48.9 224.2,48.4 Z" fill="#1470E6"/>
<path d="M250.7,30.3 C250.6,30.1 253.4,31.9 254.3,32.4 C255.3,32.9 257.3,34.1 258.5,34.4 C259.6,34.8 262.5,35.0 263.7,35.2 C264.8,35.3 266.8,35.9 267.8,35.8 C268.8,35.7 271.0,34.9 272.0,34.4 C272.9,34.0 275.1,32.9 276.1,32.4 C277.1,31.9 279.3,30.7 280.2,30.3 C281.2,29.9 282.1,29.4 283.9,29.3 C285.6,29.1 293.3,25.9 294.8,29.3 C296.2,32.7 297.0,54.8 296.1,57.6 C295.2,60.5 289.0,53.8 287.2,52.8 C285.4,51.8 282.7,50.3 281.3,49.5 C279.9,48.6 276.7,46.6 275.4,45.8 C274.0,45.0 271.2,43.4 270.2,42.8 C269.1,42.2 267.0,41.2 266.5,40.6 C265.9,40.0 266.1,38.2 265.7,37.6 C265.4,37.1 264.3,36.4 263.5,36.1 C262.7,35.9 260.0,36.0 259.1,35.8 C258.1,35.5 256.4,34.6 255.4,33.9 C254.4,33.3 250.8,30.5 250.7,30.3 Z" fill="#1E9BF5"/>
<path d="M265.7,38.0 C266.0,37.6 267.7,36.5 268.7,36.1 C269.7,35.8 272.6,35.3 273.9,35.0 C275.1,34.8 277.9,34.2 279.1,33.9 C280.2,33.7 281.5,33.0 283.5,32.8 C285.6,32.6 294.6,31.1 296.1,32.1 C297.6,33.0 297.9,39.9 296.1,41.0 C294.3,42.0 284.0,40.7 281.3,40.6 C278.6,40.5 275.7,40.5 273.9,40.4 C272.1,40.4 267.4,40.1 266.5,39.9 C265.5,39.6 265.5,38.4 265.7,38.0 Z" fill="#1470E6"/>
<path d="M193.6,67.1 C193.6,68.1 198.4,69.2 199.8,69.7 C201.2,70.3 203.7,71.3 205.0,71.8 C206.2,72.3 208.9,73.3 210.2,73.9 C211.4,74.5 214.1,75.8 215.4,76.5 C216.6,77.2 219.3,78.9 220.5,79.6 C221.8,80.3 224.6,81.8 225.7,82.2 C226.8,82.6 228.9,83.2 229.9,83.2 C230.9,83.2 232.9,82.6 234.0,82.2 C235.1,81.8 238.0,80.7 239.2,80.1 C240.5,79.5 243.2,78.1 244.4,77.5 C245.6,76.9 248.4,75.5 249.6,74.9 C250.8,74.4 253.7,73.8 254.2,72.9 C254.8,71.9 254.9,67.6 254.2,67.1 C253.6,66.7 250.0,68.3 248.5,68.7 C247.1,69.1 243.8,70.3 242.3,70.8 C240.8,71.3 237.5,72.4 236.1,72.9 C234.7,73.3 231.9,74.5 230.9,74.4 C229.9,74.3 228.7,73.0 227.8,72.3 C226.9,71.7 224.8,69.8 223.7,69.2 C222.5,68.6 219.7,67.6 218.5,67.1 C217.2,66.7 214.5,65.6 213.3,65.1 C212.0,64.6 209.7,63.4 208.1,63.0 C206.5,62.6 201.6,61.5 199.8,62.0 C198.1,62.5 193.6,66.2 193.6,67.1 Z" fill="#1E9BF5"/>
<path d="M215.4,74.4 C215.4,75.0 218.5,76.4 219.5,77.0 C220.5,77.6 222.7,79.0 223.7,79.6 C224.7,80.2 226.9,81.5 227.8,81.7 C228.7,81.9 229.9,81.5 230.9,81.1 C231.9,80.8 234.7,79.6 236.1,79.1 C237.5,78.5 240.8,77.2 242.3,76.5 C243.8,75.8 247.3,74.0 248.5,73.4 C249.8,72.7 252.4,71.7 252.7,71.3 C252.9,70.9 251.6,69.7 250.6,69.7 C249.6,69.8 245.9,71.3 244.4,71.8 C242.9,72.3 239.7,73.4 238.2,73.9 C236.7,74.4 233.1,75.8 232.0,76.0 C230.8,76.1 229.6,75.7 228.8,75.4 C228.1,75.2 226.5,74.3 225.7,73.9 C225.0,73.5 223.4,72.5 222.6,72.3 C221.9,72.1 220.4,72.1 219.5,72.3 C218.6,72.6 215.4,73.8 215.4,74.4 Z" fill="#1470E6"/>
<path d="M206.5,96.7 C206.5,95.5 210.8,92.9 212.2,92.9 C213.7,92.9 218.3,95.5 218.3,96.7 C218.3,97.9 213.7,102.6 212.2,102.6 C210.8,102.6 206.5,97.9 206.5,96.7 Z" fill="#1EB4FA"/>
<path d="M209.1,117.3 C209.4,116.5 211.3,113.4 212.5,113.0 C213.6,112.6 217.5,113.5 218.4,113.9 C219.4,114.3 220.2,115.6 220.1,116.4 C220.0,117.3 218.1,119.6 217.6,120.7 C217.1,121.8 216.1,124.4 215.9,125.8 C215.6,127.2 215.6,131.1 215.4,132.6 C215.2,134.2 214.5,137.6 214.2,138.6 C213.8,139.6 213.0,141.3 212.5,141.1 C212.0,141.0 210.1,139.0 209.9,137.7 C209.7,136.5 210.7,132.6 210.8,130.9 C210.9,129.3 210.9,125.4 210.8,124.1 C210.6,122.8 209.8,120.7 209.6,119.9 C209.4,119.0 208.7,118.1 209.1,117.3 Z" fill="#1EB4FA"/>
<use href="#coast" stroke-width="1"/>
</g>
<rect class="fr" x="0" y="0" width="288.3" height="164.6"/>
<path class="tk" d="M27.46,0v-6.1M27.46,164.6v6.1M109.83,0v-6.1M109.83,164.6v6.1M192.20,0v-6.1M192.20,164.6v6.1M274.57,0v-6.1M274.57,164.6v6.1M0,164.60h-6.1M288.3,164.60h6.1M0,109.73h-6.1M288.3,109.73h6.1M0,54.87h-6.1M288.3,54.87h6.1M0,0.00h-6.1M288.3,0.00h6.1"/><path class="tm" d="M0.00,0v-3.4M0.00,164.6v3.4M54.91,0v-3.4M54.91,164.6v3.4M82.37,0v-3.4M82.37,164.6v3.4M137.29,0v-3.4M137.29,164.6v3.4M164.74,0v-3.4M164.74,164.6v3.4M219.66,0v-3.4M219.66,164.6v3.4M247.11,0v-3.4M247.11,164.6v3.4M0,150.88h-3.4M288.3,150.88h3.4M0,137.17h-3.4M288.3,137.17h3.4M0,123.45h-3.4M288.3,123.45h3.4M0,96.02h-3.4M288.3,96.02h3.4M0,82.30h-3.4M288.3,82.30h3.4M0,68.58h-3.4M288.3,68.58h3.4M0,41.15h-3.4M288.3,41.15h3.4M0,27.43h-3.4M288.3,27.43h3.4M0,13.72h-3.4M288.3,13.72h3.4"/>
<text class="ax" x="-14.8" y="5.2" text-anchor="end">40N</text>
<text class="ax" x="-14.8" y="60.1" text-anchor="end">20N</text>
<text class="ax" x="-19.3" y="114.9" text-anchor="middle">0</text>
<text class="ax" x="-14.8" y="169.8" text-anchor="end">20S</text>
<text class="ax" x="27.5" y="191.6" text-anchor="middle">30W</text>
<text class="ax" x="109.8" y="191.6" text-anchor="middle">0</text>
<text class="ax" x="192.2" y="191.6" text-anchor="middle">30E</text>
<text class="ax" x="274.6" y="191.6" text-anchor="middle">60E</text>
<text class="pl" x="-0.9" y="-11.6">d)</text>
</g>
<rect x="169.30" y="438.1" width="30.53" height="14.1" fill="#E98B75" stroke="#000" stroke-width="0.85"/>
<rect x="199.83" y="438.1" width="30.53" height="14.1" fill="#F0AE93" stroke="#000" stroke-width="0.85"/>
<rect x="230.36" y="438.1" width="30.53" height="14.1" fill="#F6C7B3" stroke="#000" stroke-width="0.85"/>
<rect x="260.89" y="438.1" width="30.53" height="14.1" fill="#FFFFFF" stroke="#000" stroke-width="0.85"/>
<rect x="291.42" y="438.1" width="30.53" height="14.1" fill="#FFFFFF" stroke="#000" stroke-width="0.85"/>
<rect x="321.95" y="438.1" width="30.53" height="14.1" fill="#1EB4FA" stroke="#000" stroke-width="0.85"/>
<rect x="352.48" y="438.1" width="30.53" height="14.1" fill="#1E9BF5" stroke="#000" stroke-width="0.85"/>
<rect x="383.01" y="438.1" width="30.53" height="14.1" fill="#1470E6" stroke="#000" stroke-width="0.85"/>
<rect x="413.54" y="438.1" width="30.53" height="14.1" fill="#1478F5" stroke="#000" stroke-width="0.85"/>
<rect x="444.07" y="438.1" width="30.53" height="14.1" fill="#1468CC" stroke="#000" stroke-width="0.85"/>
<rect x="474.60" y="438.1" width="30.53" height="14.1" fill="#0F59A3" stroke="#000" stroke-width="0.85"/>
<text class="cb" x="230.4" y="474.8" text-anchor="middle">-1.5</text>
<text class="cb" x="291.4" y="474.8" text-anchor="middle">0</text>
<text class="cb" x="352.5" y="474.8" text-anchor="middle">1.5</text>
<text class="cb" x="413.5" y="474.8" text-anchor="middle">3</text>
<text class="cb" x="474.6" y="474.8" text-anchor="middle">4.5</text>
</svg></body></html>
